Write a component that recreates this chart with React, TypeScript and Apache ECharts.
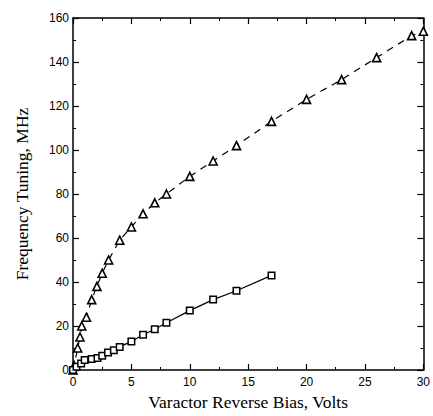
import React, { useEffect, useRef } from "react";
import * as echarts from "echarts";

// Varactor tuning curves: two oscillator configurations
const triBias = [0, 0.1, 0.4, 0.6, 0.75, 1.15, 1.6, 2.05, 2.5, 3.05, 4, 5, 6, 7, 8, 10, 12, 14, 17, 20, 23, 26, 29, 30];
const triTuning = [0, 2, 10, 15, 20, 24, 32, 38, 44, 50, 59, 65, 71, 76, 80, 88, 95, 102, 113, 123, 132, 142, 152, 154];

const sqBias = [0, 0.3, 0.7, 1.0, 1.6, 2.1, 2.5, 3.0, 3.5, 4.0, 5, 6, 7, 8, 10, 12, 14, 17];
const sqTuning = [0, 1.5, 3, 4.5, 5, 5.5, 6.5, 8, 9, 10.5, 13, 16, 18.5, 21.5, 27, 32, 36, 43];

const xTicks = [0, 5, 10, 15, 20, 25, 30];
const yTicks = [0, 20, 40, 60, 80, 100, 120, 140, 160];

const toPairs = (xs: number[], ys: number[]) => xs.map((x, i) => [x, ys[i]]);

export default function App() {
  const ref = useRef<HTMLDivElement>(null);

  useEffect(() => {
    if (!ref.current) return;
    const chart = echarts.init(ref.current, null, { renderer: "svg" });

    const frameAxis = (extra: any) => ({
      type: "value",
      axisLine: { show: true, onZero: false, lineStyle: { color: "#000", width: 1.5 } },
      axisTick: { show: true, inside: true, length: 6, lineStyle: { color: "#000", width: 1.2 } },
      minorTick: { show: true, splitNumber: 2, length: 3, lineStyle: { color: "#000", width: 1 } },
      splitLine: { show: false },
      ...extra,
    });

    const labelStyle = {
      color: "#000",
      fontFamily: "Liberation Sans, Arial, sans-serif",
      fontSize: 12,
    };

    const titleStyle = {
      color: "#000",
      fontFamily: "Liberation Serif, serif",
      fontSize: 17.5,
    };

    chart.setOption({
      animation: false,
      backgroundColor: "#fff",
      grid: { left: 73, right: 6, top: 18, bottom: 41 },
      xAxis: [
        frameAxis({
          position: "bottom",
          min: 0,
          max: xTicks[xTicks.length - 1],
          interval: 5,
          axisLabel: { ...labelStyle, margin: 6, showMaxLabel: true },
          name: "Varactor Reverse Bias, Volts",
          nameLocation: "middle",
          nameGap: 23,
          nameTextStyle: titleStyle,
        }),
        frameAxis({
          position: "top",
          min: 0,
          max: 30,
          interval: 5,
          axisLabel: { show: false },
        }),
      ],
      yAxis: [
        frameAxis({
          position: "left",
          min: 0,
          max: yTicks[yTicks.length - 1],
          interval: 20,
          axisLabel: { ...labelStyle, margin: 4 },
          name: "Frequency Tuning, MHz",
          nameLocation: "middle",
          nameGap: 42,
          nameTextStyle: titleStyle,
        }),
        frameAxis({
          position: "right",
          min: 0,
          max: 160,
          interval: 20,
          axisLabel: { show: false },
        }),
      ],
      series: [
        {
          type: "line",
          xAxisIndex: 0,
          yAxisIndex: 0,
          data: toPairs(triBias, triTuning),
          symbol: "triangle",
          symbolSize: 8,
          lineStyle: { color: "#000", width: 1.2, type: [7, 6] },
          itemStyle: { color: "#fff", borderColor: "#000", borderWidth: 1.6 },
          z: 3,
        },
        {
          type: "line",
          xAxisIndex: 0,
          yAxisIndex: 0,
          data: toPairs(sqBias, sqTuning),
          symbol: "rect",
          symbolSize: 6.5,
          lineStyle: { color: "#000", width: 1.2 },
          itemStyle: { color: "#fff", borderColor: "#000", borderWidth: 1.5 },
          z: 3,
        },
      ],
    });

    return () => chart.dispose();
  }, []);

  return <div ref={ref} style={{ width: 433, height: 416, position: "absolute", left: 0, top: 0 }} />;
}
